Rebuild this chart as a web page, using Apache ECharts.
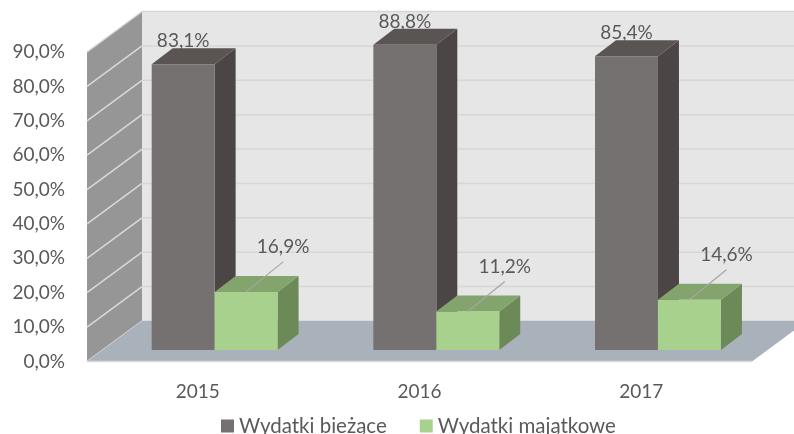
<!DOCTYPE html>
<html>
<head>
<meta charset="utf-8">
<script src="https://cdn.jsdelivr.net/npm/echarts@6/dist/echarts.min.js"></script>
<style>
  html, body { margin: 0; padding: 0; background: #fff; }
  #chart { width: 794px; height: 434px; }
</style>
</head>
<body>
<div id="chart"></div>
<script>
// dane
const years = ['2015', '2016', '2017'];
const biezace = [83.1, 88.8, 85.4];
const majatkowe = [16.9, 11.2, 14.6];
const seriesNames = ['Wydatki bieżące', 'Wydatki majątkowe'];
const yMax = 90;
const yStep = 10;

// pseudo 3D - przesuniecia w px
const DEPTH = [55, -40.5];      // glebokosc calego "pudelka"
const BAR_SHIFT = [16.8, -11.5]; // plaszczyzna slupkow wzgledem przedniej
const BAR_DEPTH = [21, -16];     // glebokosc slupka
const GROUP = 0.568;             // szerokosc grupy / szerokosc kategorii

const FONT = 'Lato, "Open Sans", sans-serif';
const TXT = '#595959';

const barColors = [
  { front: '#767171', side: '#4b4645', top: '#5a5553' },
  { front: '#a9d18e', side: '#6c8a57', top: '#84a46d' }
];

function fmt(v) {
  return v.toFixed(1).replace('.', ',') + '%';
}

function renderWalls(params, api) {
  const n = years.length;
  const band = api.size([1, 0])[0];
  const x0 = api.coord([0, 0])[0] - band / 2;
  const x1 = api.coord([n - 1, 0])[0] + band / 2;
  const yb = api.coord([0, 0])[1];
  const yt = api.coord([0, yMax])[1];
  const dx = DEPTH[0], dy = DEPTH[1];
  const kids = [];

  // tylna sciana
  kids.push({ type: 'polygon', shape: { points: [[x0 + dx, yt + dy], [x1 + dx, yt + dy], [x1 + dx, yb + dy], [x0 + dx, yb + dy]] },
    style: { fill: '#e6e6e6' } });
  for (let v = 0; v <= yMax; v += yStep) {
    const y = api.coord([0, v])[1] + dy;
    kids.push({ type: 'line', shape: { x1: x0 + dx, y1: y, x2: x1 + dx, y2: y },
      style: { stroke: '#d6d6d6', lineWidth: 1.5 } });
  }
  // lewa sciana
  kids.push({ type: 'polygon', shape: { points: [[x0, yt], [x0 + dx, yt + dy], [x0 + dx, yb + dy], [x0, yb]] },
    style: { fill: '#969696' } });
  for (let v = 0; v <= yMax; v += yStep) {
    const y = api.coord([0, v])[1];
    kids.push({ type: 'line', shape: { x1: x0, y1: y, x2: x0 + dx, y2: y + dy },
      style: { stroke: '#d9d9d9', lineWidth: 1.5 } });
  }
  // podloga
  kids.push({ type: 'polygon', shape: { points: [[x0, yb], [x1, yb], [x1 + dx, yb + dy], [x0 + dx, yb + dy]] },
    style: { fill: '#a9b2bb' } });
  kids.push({ type: 'line', shape: { x1: x0, y1: yb, x2: x1, y2: yb },
    style: { stroke: '#d9d9d9', lineWidth: 1.5 } });

  return { type: 'group', children: kids };
}

function barRenderer(idx) {
  const col = barColors[idx];
  return function (params, api) {
    const i = api.value(0);
    const v = api.value(1);
    const band = api.size([1, 0])[0];
    const gw = band * GROUP;
    const bw = gw / 2;
    const base = api.coord([i, 0]);
    const top = api.coord([i, v])[1] + BAR_SHIFT[1];
    const bot = base[1] + BAR_SHIFT[1];
    const l = base[0] - gw / 2 + idx * bw + BAR_SHIFT[0];
    const r = l + bw;
    const dx = BAR_DEPTH[0], dy = BAR_DEPTH[1];
    const mid = (l + r) / 2;
    const kids = [
      { type: 'polygon', shape: { points: [[r, top], [r + dx, top + dy], [r + dx, bot + dy], [r, bot]] }, style: { fill: col.side } },
      { type: 'polygon', shape: { points: [[l, top], [l + dx, top + dy], [r + dx, top + dy], [r, top]] }, style: { fill: col.top } },
      { type: 'rect', shape: { x: l, y: top, width: bw, height: bot - top }, style: { fill: col.front } }
    ];
    if (idx === 0) {
      kids.push({ type: 'text', z2: 10, style: { x: mid, y: top + dy - 7, text: fmt(v), align: 'center', verticalAlign: 'middle',
        font: '19px ' + FONT, fill: TXT } });
    } else {
      const lx = mid + 37, ly = top - 45;
      kids.push({ type: 'line', z2: 10, shape: { x1: lx, y1: ly + 15, x2: mid, y2: top },
        style: { stroke: '#a6a6a6', lineWidth: 1.2 } });
      kids.push({ type: 'text', z2: 10, style: { x: lx, y: ly, text: fmt(v), align: 'center', verticalAlign: 'middle',
        font: '19px ' + FONT, fill: TXT } });
    }
    return { type: 'group', children: kids };
  };
}

const chart = echarts.init(document.getElementById('chart'));
chart.setOption({
  animation: false,
  backgroundColor: '#fff',
  grid: { left: 87, right: 42, top: 52, bottom: 72.5 },
  xAxis: {
    type: 'category',
    data: years,
    axisLine: { show: false },
    axisTick: { show: false },
    axisLabel: { margin: 21, fontFamily: FONT, fontSize: 19, color: TXT }
  },
  yAxis: {
    type: 'value',
    min: 0,
    max: yMax,
    interval: yStep,
    splitLine: { show: false },
    axisLabel: { margin: 22, fontFamily: FONT, fontSize: 19, color: TXT, formatter: fmt }
  },
  legend: {
    data: seriesNames,
    left: 221,
    top: 415.5,
    padding: 0,
    itemWidth: 13,
    itemHeight: 13,
    itemGap: 33,
    icon: 'rect',
    textStyle: { fontFamily: FONT, fontSize: 20.5, color: TXT }
  },
  series: [
    { type: 'custom', name: 'walls', renderItem: renderWalls, data: [[0, 0]], silent: true },
    { type: 'custom', name: seriesNames[0], itemStyle: { color: barColors[0].front },
      renderItem: barRenderer(0), data: biezace.map((v, i) => [i, v]) },
    { type: 'custom', name: seriesNames[1], itemStyle: { color: barColors[1].front },
      renderItem: barRenderer(1), data: majatkowe.map((v, i) => [i, v]) }
  ]
});
</script>
</body>
</html>
